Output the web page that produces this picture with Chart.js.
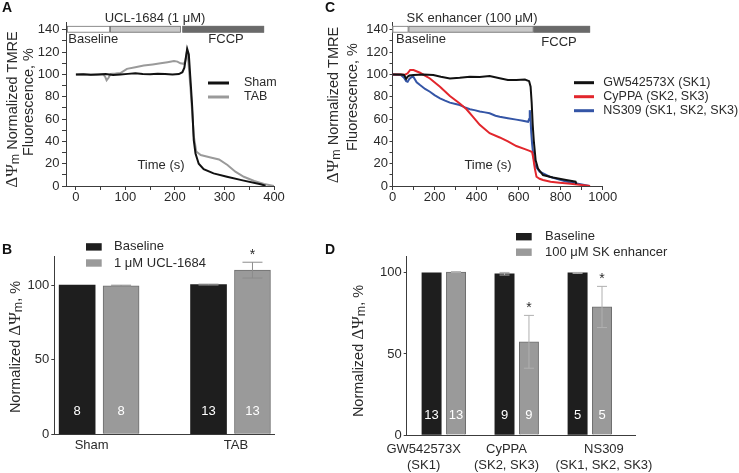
<!DOCTYPE html>
<html>
<head>
<meta charset="utf-8">
<script src="https://cdn.jsdelivr.net/npm/chart.js@4.4.1/dist/chart.umd.min.js"></script>
<style>
  body { margin: 0; background: #fff; width: 739px; height: 473px; position: relative; overflow: hidden; }
  canvas { position: absolute; }
</style>
</head>
<body>
<canvas id="chartA" width="320" height="230" style="left:0;top:0"></canvas>
<canvas id="chartC" width="419" height="230" style="left:320px;top:0"></canvas>
<canvas id="chartB" width="320" height="243" style="left:0;top:230px"></canvas>
<canvas id="chartD" width="419" height="243" style="left:320px;top:230px"></canvas>
<script>
// ----------------------
// Panel A - UCL-1684 traces (time s, % TMRE)
// ----------------------
const shamT = [0, 15, 30, 45, 60, 75, 90, 105, 120, 135, 150, 165, 180, 195, 208, 215, 219, 222, 224.7, 228, 232.7, 234.8, 238, 241.5, 248, 258, 278, 305, 339, 373, 383];
const shamV = [100, 100.2, 99.8, 100, 100.3, 99.6, 100, 100.5, 101, 100.5, 100.2, 100.6, 100.4, 100, 100.3, 102, 106, 115, 123, 118, 86, 71, 41, 29, 20, 15, 11.3, 8.3, 4.8, 1.5, 0.3];
const tabT = [0, 15, 30, 45, 55, 59, 62, 66, 70, 80, 90, 103, 120, 137, 155, 171, 185, 198, 205, 211, 218, 221, 224, 227, 231, 235, 238, 243, 252, 272, 289, 306, 322, 339, 360, 380, 400];
const tabV = [100, 100, 99.8, 100, 100, 98, 94.8, 97, 100.5, 100.8, 101.2, 105, 106.5, 108, 109, 110, 111, 112, 111.5, 110, 109.5, 112, 120, 112, 90, 65, 45, 31, 27.7, 25.6, 23.8, 18.8, 12.8, 8.3, 4.5, 1.8, 0];
const phaseNamesA = ['Baseline', 'UCL-1684 (1 μM)', 'FCCP'];
const phaseStartA = [-18, 69, 215];
const phaseEndA = [69, 212, 380];

// ----------------------
// Panel C - SK enhancer traces
// ----------------------
const gwT = [0, 20, 40, 55, 65, 72, 80, 100, 147, 194, 230, 273, 320, 368, 415, 462, 510, 549, 589, 630, 650, 657, 662, 667, 672, 681, 692, 716, 763, 826, 871, 875];
const gwV = [100, 100, 100, 99.5, 96, 98, 99, 99.4, 100, 99.5, 98, 96.4, 97, 98, 97.8, 98.5, 96.6, 95, 95, 95.5, 94, 89, 75, 55, 41, 23, 15.6, 9.8, 7.7, 5.4, 3.9, 2];
const cyT = [0, 20, 40, 60, 72, 84, 100, 131, 178, 226, 273, 320, 352, 383, 415, 462, 510, 549, 589, 630, 652, 664, 669, 677, 685, 700, 716, 752, 795, 847, 889, 940];
const cyV = [100, 100, 100, 99.8, 101, 104, 104, 101.5, 96.4, 89, 80.7, 74, 68.8, 62, 54.8, 47.3, 43.5, 40, 35.8, 33, 31.5, 30.5, 26, 15.8, 8.3, 6.5, 5.4, 3.9, 3, 2, 1.2, 0];
const nsT = [0, 20, 40, 55, 65, 72, 80, 90, 99, 115, 131, 155, 178, 200, 226, 250, 273, 300, 320, 345, 368, 390, 415, 440, 462, 490, 510, 549, 589, 620, 645, 650, 653, 656, 660, 664, 669, 677, 700, 748, 826, 889, 937];
const nsV = [100, 99.8, 99.5, 97, 94, 93.5, 96, 97.5, 98, 93, 90.5, 87, 84.5, 81.5, 78.6, 76.5, 74.7, 73.5, 72.6, 70.5, 68.8, 68, 66.7, 66, 65.2, 63, 62, 60.7, 59.5, 58.5, 57.5, 60, 68, 62, 48, 38, 29, 18.8, 12.8, 8.3, 3.9, 1.8, 0];
const phaseNamesC = ['Baseline', 'SK enhancer (100 μM)', 'FCCP'];
const phaseStartC = [0, 76, 671];
const phaseEndC = [76, 671, 940];

// ----------------------
// Panel B - bars, % of baseline
// ----------------------
const groupsB = ['Sham', 'TAB'];
const baseB = [100, 100.3];
const baseErrB = [0, 0.3];
const uclB = [99.5, 110];
const uclErrB = [0.4, 5.3];
const nB = [8, 13];
const starB = [false, true];

// ----------------------
// Panel D - bars, % of baseline
// ----------------------
const groupsD = [['GW542573X', '(SK1)'], ['CyPPA', '(SK2, SK3)'], ['NS309', '(SK1, SK2, SK3)']];
const baseD = [100, 99.5, 100];
const baseErrD = [0, 0.8, 0.3];
const skD = [100.5, 57.5, 79];
const skErrD = [0.3, 16.3, 12.7];
const nD = [13, 9, 5];
const starD = [false, true, true];

// ----------------------
// Styles
// ----------------------
const FONT = '"Liberation Sans", Arial, sans-serif';
const SERIF = '"Liberation Serif", "Times New Roman", serif';
const TXT = '#2a2a2a';
const AXIS = '#3c3c3c';
const phaseColors = ['#ffffff', '#c9c9c9', '#6a6a6a'];

const titleTrace1 = [
  { t: 'ΔΨ', font: '17px ' + SERIF },
  { t: 'm', font: '12.5px ' + FONT, dy: 2 },
  { t: ' Normalized TMRE', font: '14.5px ' + FONT }
];
const titleTrace2 = [{ t: 'Fluorescence, %', font: '14.5px ' + FONT }];
const titleBar = [
  { t: 'Normalized ', font: '14.5px ' + FONT },
  { t: 'ΔΨ', font: '17px ' + SERIF },
  { t: 'm', font: '12.5px ' + FONT, dy: 2 },
  { t: ', %', font: '14.5px ' + FONT }
];

// texto rotado (de abajo hacia arriba), x = linea base
function drawRotated(ctx, segs, x, cy) {
  ctx.save();
  ctx.translate(x, cy);
  ctx.rotate(-Math.PI / 2);
  let total = 0;
  segs.forEach(s => { ctx.font = s.font; s.w = ctx.measureText(s.t).width; total += s.w; });
  let pos = -total / 2;
  ctx.fillStyle = TXT;
  ctx.textAlign = 'left';
  ctx.textBaseline = 'alphabetic';
  segs.forEach(s => { ctx.font = s.font; ctx.fillText(s.t, pos, s.dy || 0); pos += s.w; });
  ctx.restore();
}

function drawLetter(ctx, letter, x, y) {
  ctx.fillStyle = '#111';
  ctx.font = 'bold 14px ' + FONT;
  ctx.textAlign = 'left';
  ctx.textBaseline = 'middle';
  ctx.fillText(letter, x, y);
}

// ----------------------
// Trace panels (A, C)
// ----------------------
function traceChart(id, cfg) {
  const plugin = {
    id: 'trace' + cfg.letter,
    afterDraw(chart) {
      const { ctx, scales: { x, y } } = chart;
      ctx.save();
      drawLetter(ctx, cfg.letter, cfg.letterX, 8.5);
      drawRotated(ctx, titleTrace1, cfg.t1x, cfg.t1y);
      drawRotated(ctx, titleTrace2, cfg.t2x, cfg.t2y);

      // barras de fase
      const yTop = y.getPixelForValue(143.5), yBot = y.getPixelForValue(137.5);
      cfg.phaseStart.forEach((s, i) => {
        const x1 = x.getPixelForValue(s), x2 = x.getPixelForValue(cfg.phaseEnd[i]);
        ctx.fillStyle = phaseColors[i];
        ctx.fillRect(x1, yTop, x2 - x1, yBot - yTop);
        ctx.strokeStyle = '#707070';
        ctx.lineWidth = 0.8;
        ctx.strokeRect(x1 + 0.4, yTop + 0.4, x2 - x1 - 0.8, yBot - yTop - 0.8);
      });

      ctx.fillStyle = TXT;
      ctx.font = '13px ' + FONT;
      ctx.textBaseline = 'middle';
      cfg.phaseText.forEach((p, i) => {
        ctx.textAlign = p.align;
        ctx.fillText(cfg.phaseNames[i], p.x, p.y);
      });
      ctx.textAlign = 'center';
      ctx.fillText('Time (s)', cfg.timeX, 165);

      // leyenda
      ctx.font = '12.5px ' + FONT;
      ctx.textAlign = 'left';
      chart.data.datasets.forEach((ds, i) => {
        const ly = cfg.legY[i];
        ctx.strokeStyle = ds.borderColor;
        ctx.lineWidth = 3;
        ctx.beginPath();
        ctx.moveTo(cfg.legX1, ly);
        ctx.lineTo(cfg.legX2, ly);
        ctx.stroke();
        ctx.fillStyle = TXT;
        ctx.fillText(ds.label, cfg.legText, ly);
      });
      ctx.restore();
    }
  };

  return new Chart(document.getElementById(id), {
    type: 'line',
    data: {
      datasets: cfg.series.map(s => ({
        label: s.label,
        data: s.x.map((v, i) => ({ x: v, y: s.y[i] })),
        borderColor: s.color,
        borderWidth: 2,
        pointRadius: 0,
        tension: 0,
        fill: false
      }))
    },
    options: {
      responsive: false,
      animation: false,
      devicePixelRatio: 1,
      layout: { padding: { top: 22, right: cfg.padRight, left: 0, bottom: 0 } },
      plugins: { legend: { display: false }, tooltip: { enabled: false } },
      scales: {
        x: {
          type: 'linear', min: cfg.xMin, max: cfg.xMax,
          grid: { drawOnChartArea: false, tickLength: 4, color: AXIS },
          border: { color: AXIS, width: 1 },
          ticks: {
            stepSize: cfg.xStep, includeBounds: false, autoSkip: false, maxRotation: 0,
            padding: 0, color: TXT, font: { family: FONT, size: 13 },
            callback: v => (v % cfg.xLabelStep === 0 ? v : '')
          },
          afterFit: s => { s.height = 44; }
        },
        y: {
          type: 'linear', min: 0, max: 147,
          grid: { drawOnChartArea: false, tickLength: cfg.yTick, color: AXIS },
          border: { color: AXIS, width: 1 },
          ticks: {
            stepSize: 10, includeBounds: false, autoSkip: false,
            padding: cfg.yPad, color: TXT, font: { family: FONT, size: 13 },
            callback: v => (v % 20 === 0 ? v : '')
          },
          afterFit: s => { s.width = cfg.yW; }
        }
      }
    },
    plugins: [plugin]
  });
}

traceChart('chartA', {
  letter: 'A', letterX: 2,
  t1x: 17, t1y: 109.5, t2x: 33, t2y: 102,
  series: [
    { label: 'Sham', x: shamT, y: shamV, color: '#111111' },
    { label: 'TAB', x: tabT, y: tabV, color: '#9a9a9a' }
  ],
  phaseNames: phaseNamesA, phaseStart: phaseStartA, phaseEnd: phaseEndA,
  phaseText: [{ x: 68.3, y: 39, align: 'left' }, { x: 155, y: 18.3, align: 'center' }, { x: 226, y: 39, align: 'center' }],
  timeX: 161,
  legX1: 208, legX2: 229, legY: [83, 97], legText: 244,
  xMin: -20, xMax: 400, xStep: 50, xLabelStep: 100,
  padRight: 46, yW: 66, yTick: 4, yPad: 2.5
});

traceChart('chartC', {
  letter: 'C', letterX: 5,
  t1x: 18.3, t1y: 105, t2x: 36.7, t2y: 97,
  series: [
    { label: 'GW542573X (SK1)', x: gwT, y: gwV, color: '#111111' },
    { label: 'CyPPA (SK2, SK3)', x: cyT, y: cyV, color: '#e2262c' },
    { label: 'NS309 (SK1, SK2, SK3)', x: nsT, y: nsV, color: '#3455a6' }
  ],
  phaseNames: phaseNamesC, phaseStart: phaseStartC, phaseEnd: phaseEndC,
  phaseText: [{ x: 76, y: 39, align: 'left' }, { x: 152, y: 18.3, align: 'center' }, { x: 239, y: 42.3, align: 'center' }],
  timeX: 168,
  legX1: 254, legX2: 274, legY: [82.7, 96.7, 110.7], legText: 283.3,
  xMin: 0, xMax: 1000, xStep: 100, xLabelStep: 200,
  padRight: 136.3, yW: 72.5, yTick: 3, yPad: 1.5
});

// ----------------------
// Bar panels (B, D)
// ----------------------
function barChart(id, cfg) {
  const plugin = {
    id: 'bars' + cfg.letter,
    afterDatasetsDraw(chart) {
      const { ctx, chartArea, scales: { x, y } } = chart;
      ctx.save();
      // barras de error
      ctx.strokeStyle = cfg.errColor;
      ctx.lineWidth = 1;
      cfg.sets.forEach((set, j) => {
        set.values.forEach((v, i) => {
          const e = set.err[i];
          if (!e) return;
          const px = x.getPixelForValue(cfg.groupX[i] + cfg.offsets[j]);
          const top = y.getPixelForValue(v + e), bot = y.getPixelForValue(v - e);
          ctx.beginPath();
          ctx.moveTo(px, bot); ctx.lineTo(px, top);
          ctx.moveTo(px - cfg.capW / 2, top); ctx.lineTo(px + cfg.capW / 2, top);
          ctx.moveTo(px - cfg.capW / 2, bot); ctx.lineTo(px + cfg.capW / 2, bot);
          ctx.stroke();
        });
      });
      // n y asteriscos
      ctx.textAlign = 'center';
      ctx.textBaseline = 'middle';
      cfg.sets.forEach((set, j) => {
        set.values.forEach((v, i) => {
          const px = x.getPixelForValue(cfg.groupX[i] + cfg.offsets[j]);
          ctx.fillStyle = '#ffffff';
          ctx.font = '13px ' + FONT;
          ctx.fillText(String(cfg.n[i]), px, chartArea.bottom - cfg.nOffset);
          if (j === 1 && cfg.star[i]) {
            ctx.fillStyle = TXT;
            ctx.font = '14px ' + FONT;
            ctx.fillText('*', px, y.getPixelForValue(v + set.err[i]) - 7);
          }
        });
      });
      ctx.restore();
    },
    afterDraw(chart) {
      const { ctx } = chart;
      ctx.save();
      drawLetter(ctx, cfg.letter, cfg.letterX, 20);
      drawRotated(ctx, titleBar, cfg.tx, cfg.ty);
      ctx.font = '13px ' + FONT;
      ctx.textAlign = 'left';
      ctx.textBaseline = 'middle';
      chart.data.datasets.forEach((ds, j) => {
        const ly = cfg.legY[j];
        ctx.fillStyle = ds.backgroundColor;
        ctx.fillRect(cfg.legBoxX, ly - 3.7, 15.7, 7.4);
        ctx.fillStyle = TXT;
        ctx.fillText(ds.label, cfg.legText, ly);
      });
      ctx.restore();
    }
  };

  const colors = ['#1e1e1e', '#9a9a9a'];
  const borders = ['#1e1e1e', '#6e6e6e'];
  return new Chart(document.getElementById(id), {
    type: 'bar',
    data: {
      datasets: cfg.sets.map((set, j) => ({
        label: set.label,
        data: set.values.map((v, i) => ({ x: cfg.groupX[i] + cfg.offsets[j], y: v })),
        backgroundColor: colors[j],
        borderColor: borders[j],
        borderWidth: j === 1 ? 1 : 0,
        barThickness: cfg.barW,
        grouped: false
      }))
    },
    options: {
      responsive: false,
      animation: false,
      devicePixelRatio: 1,
      layout: { padding: { top: 26.7, right: cfg.padRight, left: 0, bottom: 0 } },
      plugins: { legend: { display: false }, tooltip: { enabled: false } },
      scales: {
        x: {
          type: 'linear', min: 0, max: 100, offset: false,
          grid: { display: false, drawTicks: false, offset: false },
          border: { color: AXIS, width: 1 },
          afterBuildTicks: s => { s.ticks = cfg.labelX.map(v => ({ value: v })); },
          ticks: {
            autoSkip: false, maxRotation: 0, padding: cfg.xPad,
            color: TXT, font: { family: FONT, size: 13 },
            callback: (v, i) => cfg.labels[i]
          },
          afterFit: s => { s.height = cfg.xH; }
        },
        y: {
          type: 'linear', min: 0, max: cfg.yMax,
          grid: { drawOnChartArea: false, tickLength: 3, color: AXIS },
          border: { color: AXIS, width: 1 },
          ticks: {
            stepSize: 50, includeBounds: false, autoSkip: false, padding: 2,
            color: TXT, font: { family: FONT, size: 13 }
          },
          afterFit: s => { s.width = cfg.yW; }
        }
      }
    },
    plugins: [plugin]
  });
}

barChart('chartB', {
  letter: 'B', letterX: 2, tx: 20, ty: 117,
  sets: [
    { label: 'Baseline', values: baseB, err: baseErrB },
    { label: '1 μM UCL-1684', values: uclB, err: uclErrB }
  ],
  n: nB, star: starB, labels: groupsB,
  groupX: [20.4, 80.2], offsets: [-10, 10], labelX: [17, 82.7],
  barW: 36, capW: 20, errColor: '#8c8c8c', nOffset: 22.6,
  legBoxX: 86, legText: 114, legY: [16.9, 33],
  padRight: 46, yW: 54.3, xH: 38.7, xPad: 3, yMax: 119
});

barChart('chartD', {
  letter: 'D', letterX: 5, tx: 43, ty: 121,
  sets: [
    { label: 'Baseline', values: baseD, err: baseErrD },
    { label: '100 μM SK enhancer', values: skD, err: skErrD }
  ],
  n: nD, star: starD, labels: groupsD,
  groupX: [16.25, 48.2, 80.2], offsets: [-5.35, 5.35], labelX: [7.4, 43.7, 86.4],
  barW: 19.3, capW: 10, errColor: '#b0b0b0', nOffset: 19.3,
  legBoxX: 196, legText: 225, legY: [6.7, 22.2],
  padRight: 104, yW: 86.7, xH: 38, xPad: 7, yMax: 110
});
</script>
</body>
</html>
